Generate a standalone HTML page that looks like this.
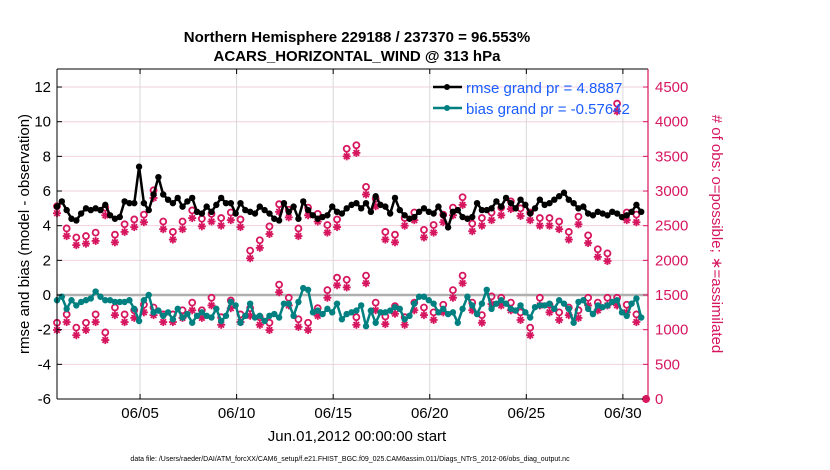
<!DOCTYPE html>
<html><head><meta charset="utf-8"><style>
html,body{margin:0;padding:0;background:#fff;}
svg{display:block;font-family:"Liberation Sans",sans-serif;}
</style></head><body>
<svg id="chart" width="830" height="470" viewBox="0 0 830 470">
<text x="357" y="42" text-anchor="middle" font-size="15" font-weight="bold">Northern Hemisphere 229188 / 237370 = 96.553%</text>
<text x="357" y="61" text-anchor="middle" font-size="15" font-weight="bold">ACARS_HORIZONTAL_WIND @ 313 hPa</text>
<g id="grid"></g>
<g id="plot"></g>
<g id="axes"></g>
<text transform="translate(29,234) rotate(-90)" text-anchor="middle" font-size="15">rmse and bias (model - observation)</text>
<text transform="translate(712,234) rotate(90)" text-anchor="middle" font-size="15" fill="#d6165f"># of obs: o=possible; ∗=assimilated</text>
<text x="357" y="441" text-anchor="middle" font-size="15">Jun.01,2012 00:00:00 start</text>
<text x="350" y="461" text-anchor="middle" font-size="7">data file: /Users/raeder/DAI/ATM_forcXX/CAM6_setup/f.e21.FHIST_BGC.f09_025.CAM6assim.011/Diags_NTrS_2012-06/obs_diag_output.nc</text>
<g>
<line x1="433" y1="87" x2="462" y2="87" stroke="#000" stroke-width="2.5"/>
<circle cx="447" cy="87" r="3" fill="#000"/>
<text x="466" y="93" font-size="15" fill="#1a5cff">rmse grand pr = 4.8887</text>
<line x1="433" y1="108" x2="462" y2="108" stroke="#008080" stroke-width="2.5"/>
<circle cx="447" cy="108" r="3" fill="#008080"/>
<text x="466" y="114" font-size="15" fill="#1a5cff">bias grand pr = -0.57642</text>
</g>
</svg>
<script>
const rmse=[5.1,5.4,4.9,4.4,4.3,4.7,5.0,4.9,5.0,4.9,5.2,4.6,4.4,4.5,5.4,5.3,5.3,7.4,5.3,4.9,5.8,6.8,5.8,5.5,5.3,5.6,5.1,5.4,5.6,4.8,
4.7,5.1,4.8,5.2,5.6,5.3,5.3,4.7,5.3,4.9,4.8,4.7,5.1,4.9,4.7,4.4,4.3,5.3,4.8,5.1,4.4,5.4,4.9,4.6,4.4,4.5,4.6,5.1,4.8,4.7,
5.0,5.2,5.3,5.0,5.3,4.8,5.7,5.2,5.1,4.7,5.6,4.9,4.6,4.4,4.5,4.8,5.0,4.8,4.7,5.1,4.6,3.9,4.8,4.9,4.5,4.4,4.5,5.3,4.9,4.9,
5.0,5.4,5.1,5.6,5.3,5.0,5.5,5.2,4.7,5.0,5.5,5.2,5.3,5.5,5.7,5.9,5.5,5.3,5.0,5.1,4.7,4.6,4.8,4.7,4.6,4.8,4.7,4.5,4.6,4.8,5.2,4.8];
const bias=[-0.3,-0.1,-0.8,-0.3,-0.6,-0.4,-0.3,-0.2,0.2,-0.1,-0.3,-0.3,-0.4,-0.4,-0.4,-0.3,-0.8,-1.5,-0.3,0.0,-1.0,-0.9,-1.2,-1.0,-1.4,-0.8,-1.3,-1.1,-1.6,-1.2,
-1.0,-1.2,-1.3,-0.8,-1.5,-1.2,-0.4,-0.6,-1.6,-1.2,-0.5,-1.3,-1.2,-1.5,-1.2,-1.1,-1.3,-0.5,-0.5,-1.2,-0.4,0.4,0.3,-1.0,-0.9,-1.1,-0.8,-1.0,-0.5,-1.4,
-1.1,-1.0,-0.9,-0.6,-1.8,-0.9,-1.6,-1.0,-1.0,-0.9,-0.7,-0.8,-1.4,-1.2,-0.5,-0.1,-0.1,-0.3,-0.5,-1.0,-0.8,-1.1,-1.0,-1.6,-0.8,-0.1,-0.6,-1.1,-0.5,0.3,
-0.8,-0.5,-0.3,-0.5,-0.8,-0.9,-0.6,-1.0,-1.3,-0.7,-0.6,-0.6,-0.5,-0.8,-0.3,-0.5,-0.8,-1.6,-0.4,-0.3,-0.8,-1.1,-0.6,-0.7,-0.6,-0.4,-0.3,-1.0,-1.2,-0.5,-0.2,-1.3];
const rmseAssim=[2680,2350,2220,2240,2280,2650,2260,2410,2480,2550,2900,2450,2300,2450,2610,2490,2560,2500,2580,2480,2030,2180,2380,2700,2620,2350,2650,2560,2400,2480,
3500,3550,2950,2780,2300,2260,2500,2580,2330,2400,2550,2650,2800,2420,2500,2580,2650,2740,2640,2580,2500,2500,2450,2300,2520,2250,2050,1990,4150,2580,2550];
const rmsePoss=[2780,2460,2330,2350,2400,2760,2370,2520,2590,2660,3010,2560,2410,2560,2720,2600,2670,2610,2690,2590,2140,2290,2490,2810,2730,2460,2760,2670,2510,2590,
3610,3660,3060,2890,2410,2370,2610,2690,2440,2510,2660,2760,2910,2530,2610,2690,2760,2850,2750,2690,2610,2610,2560,2410,2630,2360,2160,2100,4260,2690,2660];
const biasAssim=[995,1110,920,995,1110,850,1210,1110,1170,1250,1210,1110,1110,1170,1280,1170,1350,1070,1310,1110,1200,1070,995,1540,1350,1040,995,1200,1460,1640,
1610,1070,1670,1280,1080,1230,1070,1280,1210,1140,1250,1460,1670,1280,1100,1370,1350,1280,1140,920,1350,1250,1140,1210,1170,1350,1280,1350,1350,1250,1110,0];
const biasPoss=[1100,1220,1030,1100,1220,960,1320,1220,1280,1360,1320,1220,1220,1280,1390,1280,1460,1180,1420,1220,1310,1180,1100,1650,1460,1150,1100,1310,1570,1750,
1720,1180,1780,1390,1190,1340,1180,1390,1320,1250,1360,1570,1780,1390,1210,1480,1460,1390,1250,1030,1460,1360,1250,1320,1280,1460,1390,1460,1460,1360,1220,0];
const xTickLabels=["06/05","06/10","06/15","06/20","06/25","06/30"];
const xTickDays=[4,9,14,19,24,29];
const yTicksLeft=[-6,-4,-2,0,2,4,6,8,10,12];
const yTicksRight=[0,500,1000,1500,2000,2500,3000,3500,4000,4500];

const L=57,R=648,T=69,B=399;
const dMin=-0.3,dMax=30.3;
const yMin=-6,yMax=13.04;
const cMax=(yMax-yMin)*250;
const X=d=>L+(d-dMin)/(dMax-dMin)*(R-L);
const Y=v=>B-(v-yMin)/(yMax-yMin)*(B-T);
const YC=c=>B-c/cMax*(B-T);
const NS="http://www.w3.org/2000/svg";
const PINK="#d6165f";
function mk(tag,attrs,parent){const e=document.createElementNS(NS,tag);for(const k in attrs)e.setAttribute(k,attrs[k]);parent.appendChild(e);return e;}
const grid=document.getElementById('grid'),plot=document.getElementById('plot'),axes=document.getElementById('axes');

mk('rect',{x:L,y:T,width:R-L,height:B-T,fill:'#fff'},grid);
yTicksRight.forEach(c=>{const ln=mk('line',{x1:L,x2:R,y1:YC(c),y2:YC(c),stroke:'#f2cfdc','stroke-width':1},grid);

});
xTickDays.forEach(d=>{const ln=mk('line',{x1:X(d),x2:X(d),y1:T,y2:B,stroke:'#d8d8d8','stroke-width':1},grid);

});
const zl=mk('line',{x1:L,x2:R,y1:Y(0),y2:Y(0),stroke:'#b0b0b0','stroke-width':2.5},grid);



function star(cx,cy,g){const r=4;[[r,0],[0,r],[r*0.7,r*0.7],[r*0.7,-r*0.7]].forEach(([dx,dy])=>mk('line',{x1:cx-dx,y1:cy-dy,x2:cx+dx,y2:cy+dy,stroke:PINK,'stroke-width':1.8},g));}
function countSeries(assim,poss,name){
const g=mk('g',{},plot);


assim.forEach((c,i)=>{const d=dMin+i*0.5;star(X(d),YC(c),g);
mk('circle',{cx:X(d),cy:YC(poss[i]),r:3,fill:'none',stroke:PINK,'stroke-width':1.8},g);});
}
countSeries(rmseAssim,rmsePoss,'rmse-obs-count-series');
countSeries(biasAssim,biasPoss,'bias-obs-count-series');

function lineSeries(vals,color,name){
const g=mk('g',{},plot);


const pts=vals.map((v,i)=>X(dMin+i*0.25).toFixed(1)+','+Y(v).toFixed(1)).join(' ');
mk('polyline',{points:pts,fill:'none',stroke:color,'stroke-width':2.5,'stroke-linejoin':'round'},g);
vals.forEach((v,i)=>mk('circle',{cx:X(dMin+i*0.25),cy:Y(v),r:3.2,fill:color},g));
}
lineSeries(bias,'#008080','bias-series');
lineSeries(rmse,'#000000','rmse-series');

mk('line',{x1:L,x2:L,y1:T,y2:B,stroke:'#000','stroke-width':1},axes);
mk('line',{x1:L,x2:R,y1:B,y2:B,stroke:'#000','stroke-width':1},axes);
mk('line',{x1:L,x2:R,y1:T,y2:T,stroke:'#000','stroke-width':1},axes);
mk('line',{x1:R,x2:R,y1:T,y2:B,stroke:PINK,'stroke-width':1.2},axes);
yTicksLeft.forEach(v=>{mk('line',{x1:L,x2:L+5,y1:Y(v),y2:Y(v),stroke:'#000'},axes);
const t=mk('text',{x:L-6,y:Y(v)+5,'text-anchor':'end','font-size':15},axes);t.textContent=v;

});
yTicksRight.forEach(c=>{mk('line',{x1:R-5,x2:R,y1:YC(c),y2:YC(c),stroke:PINK},axes);
const t=mk('text',{x:R+7,y:YC(c)+5,'font-size':15,fill:PINK},axes);t.textContent=c;

});
xTickDays.forEach((d,i)=>{mk('line',{x1:X(d),x2:X(d),y1:B,y2:B-5,stroke:'#000'},axes);
mk('line',{x1:X(d),x2:X(d),y1:T,y2:T+5,stroke:'#000'},axes);
const t=mk('text',{x:X(d),y:B+19,'text-anchor':'middle','font-size':15},axes);t.textContent=xTickLabels[i];

});
</script>
</body></html>
